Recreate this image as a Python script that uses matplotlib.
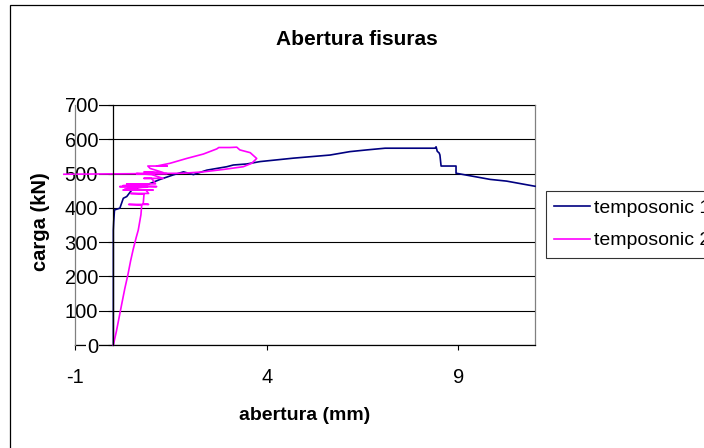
import matplotlib
matplotlib.use("Agg")
import matplotlib.pyplot as plt
from matplotlib.patches import Rectangle

plt.rcParams["font.family"] = ["Liberation Sans", "DejaVu Sans"]
plt.rcParams["axes.unicode_minus"] = False

# temposonic 1 (abertura mm, carga kN)
t1_x = [0, 0, 0.01, 0.03, 0.17, 0.26, 0.35, 0.48, 0.52, 0.78, 0.87, 1.22, 1.56,
        1.65, 1.83, 2.09, 2.44, 2.96, 3.13, 3.48, 3.83, 4.70, 5.65, 5.91, 6.17,
        6.61, 7.09, 8.39, 8.42, 8.45, 8.50, 8.52, 8.55, 8.94, 8.94, 9.83, 10.26,
        11.0]
t1_y = [0, 335, 360, 394, 399, 428, 433, 452, 452, 467, 467, 483, 496,
        499, 505, 497, 510, 520, 525, 528, 535, 545, 554, 559, 564,
        569, 574, 574, 578, 565, 560, 554, 522, 522, 501, 483, 478,
        463]

# temposonic 2
t2_x = [0, 0.08, 0.15, 0.22, 0.30, 0.38, 0.45, 0.52, 0.60, 0.65, 0.72, 0.74,
        0.40, 0.92, 0.78, 0.80, 0.45, 0.92, 0.85, 0.26, 1.04, 0.30, 0.90, 0.17,
        1.13, 0.25, 0.90, 0.35, 1.10, 1.00, 0.80, 1.30, 1.00, 0.60, 1.40, 0.80,
        1.30, 0.96, 0.90, 1.40, 1.13, 1.48, 1.91, 2.35, 2.70, 2.75, 3.04, 3.22,
        3.30, 3.57, 3.70, 3.74, 3.61, 3.39, 2.87, 2.35, 1.83, 0.96, -1.29]
t2_y = [0, 40, 80, 120, 165, 205, 245, 280, 315, 335, 380, 408,
        410, 410, 412, 440, 442, 442, 452, 452, 452, 455, 462, 462,
        462, 465, 470, 470, 470, 486, 486, 486, 497, 500, 500, 505,
        503, 515, 522, 522, 522, 530, 544, 557, 572, 576, 576, 577,
        569, 561, 548, 544, 530, 520, 512, 505, 501, 500, 498]

series = ["temposonic 1", "temposonic 2"]
y_ticks = [0, 100, 200, 300, 400, 500, 600, 700]
x_ticks = [-1, 4, 9]

W, H = 704, 448
fig = plt.figure(figsize=(W / 100, H / 100), dpi=100)
ax = fig.add_axes([75 / W, 1 - 345 / H, 460 / W, 240 / H])
ax.set_axisbelow(True)

ax.plot(t1_x, t1_y, color="#000080", lw=1.2, label=series[0], clip_on=False, zorder=2)
ax.plot(t2_x, t2_y, color="#FF00FF", lw=1.2, label=series[1], clip_on=False, zorder=2.1)

ax.set_xlim(-1, 11)
ax.set_ylim(0, 700)
ax.set_xticks(x_ticks)
ax.set_yticks(y_ticks)
ax.yaxis.grid(True, color="black", lw=0.8)

# y axis crosses at x = 0, plot-area border in gray
ax.spines["left"].set_position(("data", 0))
ax.spines["left"].set_color("black")
ax.spines["left"].set_linewidth(0.9)
ax.spines["bottom"].set_color("black")
ax.spines["bottom"].set_linewidth(0.9)
ax.spines["bottom"].set_zorder(0.4)
for s in ("top", "right"):
    ax.spines[s].set_color("#808080")
    ax.spines[s].set_linewidth(0.9)
    ax.spines[s].set_zorder(0.4)
ax.axvline(-1, color="#808080", lw=0.9, zorder=2.6, clip_on=False)

ax.tick_params(axis="y", direction="out", length=3.6, width=0.8, pad=7.4, labelsize=14.5)
ax.tick_params(axis="x", direction="out", length=3.6, width=0.8, pad=13, labelsize=14.5)
for lab in ax.get_yticklabels():
    lab.set_bbox(dict(facecolor="white", edgecolor="none", pad=0.5))

fig.text(357 / W, 1 - 45 / H, "Abertura fisuras", ha="center", va="baseline",
         fontsize=15, fontweight="bold")
fig.text(305 / W, 1 - 415 / H, "abertura (mm)", ha="center", va="center",
         fontsize=14, fontweight="bold")
fig.text(40 / W, 1 - 222 / H, "carga (kN)", ha="center", va="center",
         rotation=90, fontsize=14.5, fontweight="bold")

leg = fig.legend(loc="center left", bbox_to_anchor=(545.5 / W, 1 - 224.5 / H),
                 fontsize=14, frameon=True, fancybox=False, shadow=False,
                 handlelength=1.83, handletextpad=0.23, labelspacing=0.75,
                 borderpad=0.45, borderaxespad=0)
leg.get_frame().set_edgecolor("black")
leg.get_frame().set_linewidth(0.8)

fig.patches.append(Rectangle((9.5 / W, -0.1), 2, 1.1 - 5 / H, transform=fig.transFigure,
                             fill=False, edgecolor="black", lw=0.9))

fig.savefig("out.png", dpi=100)
